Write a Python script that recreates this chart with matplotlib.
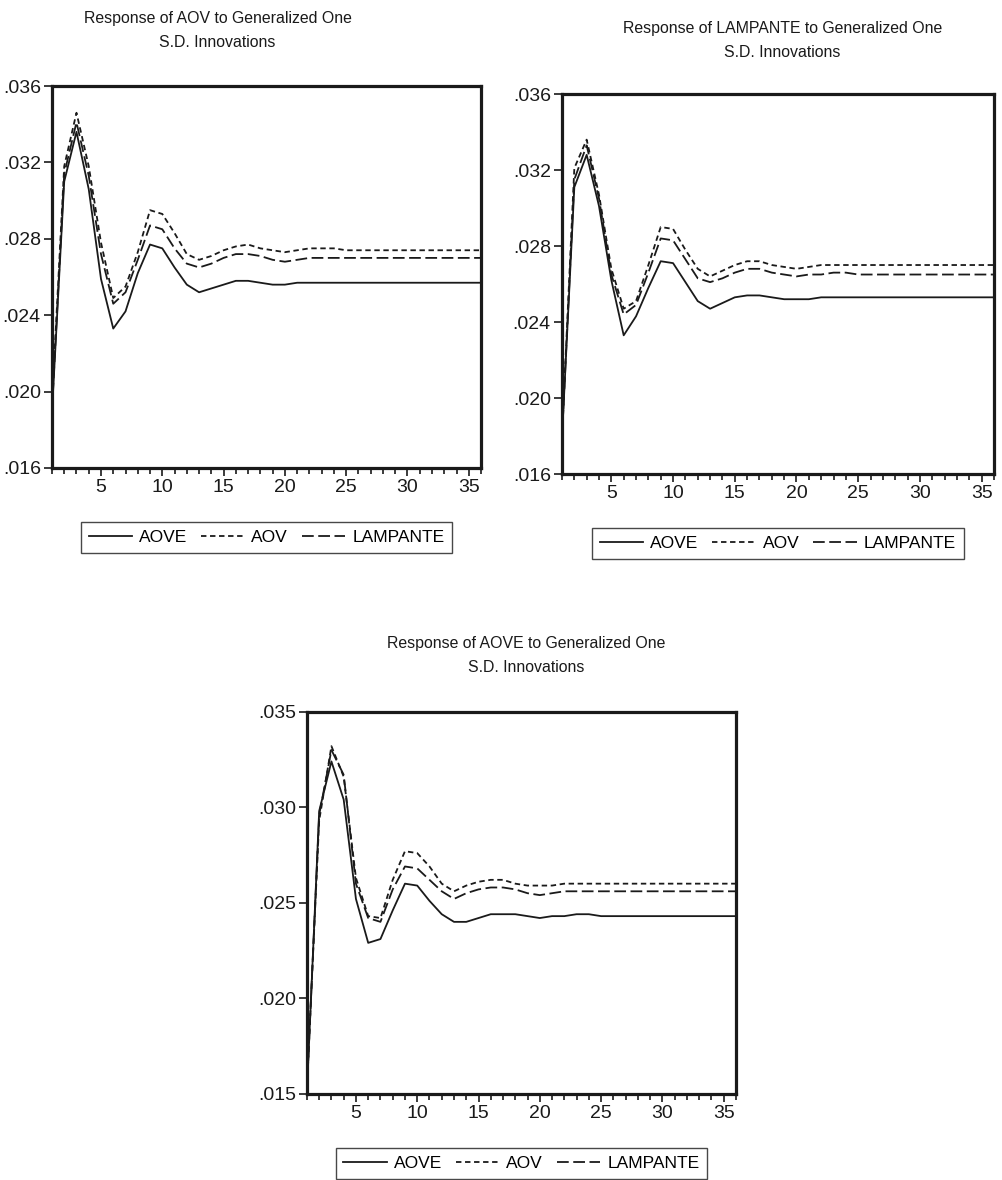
import matplotlib
matplotlib.use("Agg")
import matplotlib.pyplot as plt
from matplotlib.ticker import FixedLocator, MultipleLocator, FuncFormatter

plt.rcParams["font.family"] = ["Liberation Sans", "DejaVu Sans"]

periods = list(range(1, 37))
series_names = ["AOVE", "AOV", "LAMPANTE"]

# Response of AOV
aov_resp_aove = [.0189, .0310, .0336, .0306, .0259, .0233, .0242, .0262, .0277, .0275,
                 .0265, .0256, .0252, .0254, .0256, .0258, .0258, .0257, .0256, .0256,
                 .0257, .0257, .0257, .0257, .0257, .0257, .0257, .0257, .0257, .0257,
                 .0257, .0257, .0257, .0257, .0257, .0257]
aov_resp_aov = [.0194, .0318, .0346, .0318, .0278, .0249, .0255, .0273, .0295, .0293,
                .0283, .0272, .0269, .0271, .0274, .0276, .0277, .0275, .0274, .0273,
                .0274, .0275, .0275, .0275, .0274, .0274, .0274, .0274, .0274, .0274,
                .0274, .0274, .0274, .0274, .0274, .0274]
aov_resp_lamp = [.0190, .0314, .0341, .0313, .0272, .0246, .0252, .0269, .0287, .0285,
                 .0275, .0267, .0265, .0267, .0270, .0272, .0272, .0271, .0269, .0268,
                 .0269, .0270, .0270, .0270, .0270, .0270, .0270, .0270, .0270, .0270,
                 .0270, .0270, .0270, .0270, .0270, .0270]

# Response of LAMPANTE
lamp_resp_aove = [.0179, .0311, .0328, .0301, .0262, .0233, .0243, .0258, .0272, .0271,
                  .0261, .0251, .0247, .0250, .0253, .0254, .0254, .0253, .0252, .0252,
                  .0252, .0253, .0253, .0253, .0253, .0253, .0253, .0253, .0253, .0253,
                  .0253, .0253, .0253, .0253, .0253, .0253]
lamp_resp_aov = [.0180, .0321, .0336, .0307, .0268, .0247, .0251, .0270, .0290, .0289,
                 .0278, .0268, .0264, .0267, .0270, .0272, .0272, .0270, .0269, .0268,
                 .0269, .0270, .0270, .0270, .0270, .0270, .0270, .0270, .0270, .0270,
                 .0270, .0270, .0270, .0270, .0270, .0270]
lamp_resp_lamp = [.0179, .0315, .0333, .0305, .0265, .0244, .0249, .0266, .0284, .0283,
                  .0273, .0263, .0261, .0263, .0266, .0268, .0268, .0266, .0265, .0264,
                  .0265, .0265, .0266, .0266, .0265, .0265, .0265, .0265, .0265, .0265,
                  .0265, .0265, .0265, .0265, .0265, .0265]

# Response of AOVE
aove_resp_aove = [.0151, .0298, .0324, .0304, .0252, .0229, .0231, .0246, .0260, .0259,
                  .0251, .0244, .0240, .0240, .0242, .0244, .0244, .0244, .0243, .0242,
                  .0243, .0243, .0244, .0244, .0243, .0243, .0243, .0243, .0243, .0243,
                  .0243, .0243, .0243, .0243, .0243, .0243]
aove_resp_aov = [.0153, .0293, .0332, .0316, .0263, .0243, .0242, .0262, .0277, .0276,
                 .0269, .0260, .0256, .0259, .0261, .0262, .0262, .0260, .0259, .0259,
                 .0259, .0260, .0260, .0260, .0260, .0260, .0260, .0260, .0260, .0260,
                 .0260, .0260, .0260, .0260, .0260, .0260]
aove_resp_lamp = [.0152, .0296, .0330, .0317, .0260, .0242, .0240, .0257, .0269, .0268,
                  .0262, .0256, .0252, .0255, .0257, .0258, .0258, .0257, .0255, .0254,
                  .0255, .0256, .0256, .0256, .0256, .0256, .0256, .0256, .0256, .0256,
                  .0256, .0256, .0256, .0256, .0256, .0256]

ink = "#1a1a1a"
styles = [dict(linestyle="-"),
          dict(linestyle=(0, (3.0, 2.0))),
          dict(linestyle=(0, (6.5, 2.5)))]


def plot_panel(fig, rect, data, yticks, title, title_xy):
    ax = fig.add_axes(rect)
    for vals, name, st in zip(data, series_names, styles):
        ax.plot(periods, vals, color=ink, lw=1.3, label=name, **st)
    ax.set_xlim(1, 36)
    ax.set_ylim(yticks[0], yticks[-1])
    ax.yaxis.set_major_locator(FixedLocator(yticks))
    ax.yaxis.set_major_formatter(FuncFormatter(lambda v, p: ("%.3f" % v)[1:]))
    ax.xaxis.set_major_locator(MultipleLocator(5))
    ax.xaxis.set_minor_locator(MultipleLocator(1))
    ax.tick_params(axis="both", which="major", direction="out", length=6,
                   width=1.2, labelsize=14, colors=ink, pad=2)
    ax.tick_params(axis="x", which="minor", direction="out", length=4, width=1.2, colors=ink)
    for sp in ax.spines.values():
        sp.set_linewidth(2.3)
        sp.set_color(ink)
    leg = ax.legend(loc="upper center", bbox_to_anchor=(0.5, -0.142), ncol=3,
                    fontsize=12.5, frameon=True, fancybox=False, handlelength=2.5,
                    handletextpad=0.4, columnspacing=0.8, borderpad=0.45,
                    borderaxespad=0, edgecolor=ink)
    leg.get_frame().set_linewidth(1.0)
    fig.text(title_xy[0], title_xy[1], title, ha="center", va="top",
             fontsize=11.4, color=ink, linespacing=1.75)
    return ax


fig = plt.figure(figsize=(10.03, 11.8), dpi=100)

plot_panel(fig, [0.0518, 0.6034, 0.4278, 0.3237],
           [aov_resp_aove, aov_resp_aov, aov_resp_lamp],
           [.016, .020, .024, .028, .032, .036],
           "Response of AOV to Generalized One\nS.D. Innovations",
           (0.217, 0.9907))
plot_panel(fig, [0.5603, 0.5983, 0.4307, 0.3220],
           [lamp_resp_aove, lamp_resp_aov, lamp_resp_lamp],
           [.016, .020, .024, .028, .032, .036],
           "Response of LAMPANTE to Generalized One\nS.D. Innovations",
           (0.780, 0.982))
plot_panel(fig, [0.3060, 0.0731, 0.4277, 0.3237],
           [aove_resp_aove, aove_resp_aov, aove_resp_lamp],
           [.015, .020, .025, .030, .035],
           "Response of AOVE to Generalized One\nS.D. Innovations",
           (0.525, 0.461))

fig.savefig("out.png", dpi=100)
